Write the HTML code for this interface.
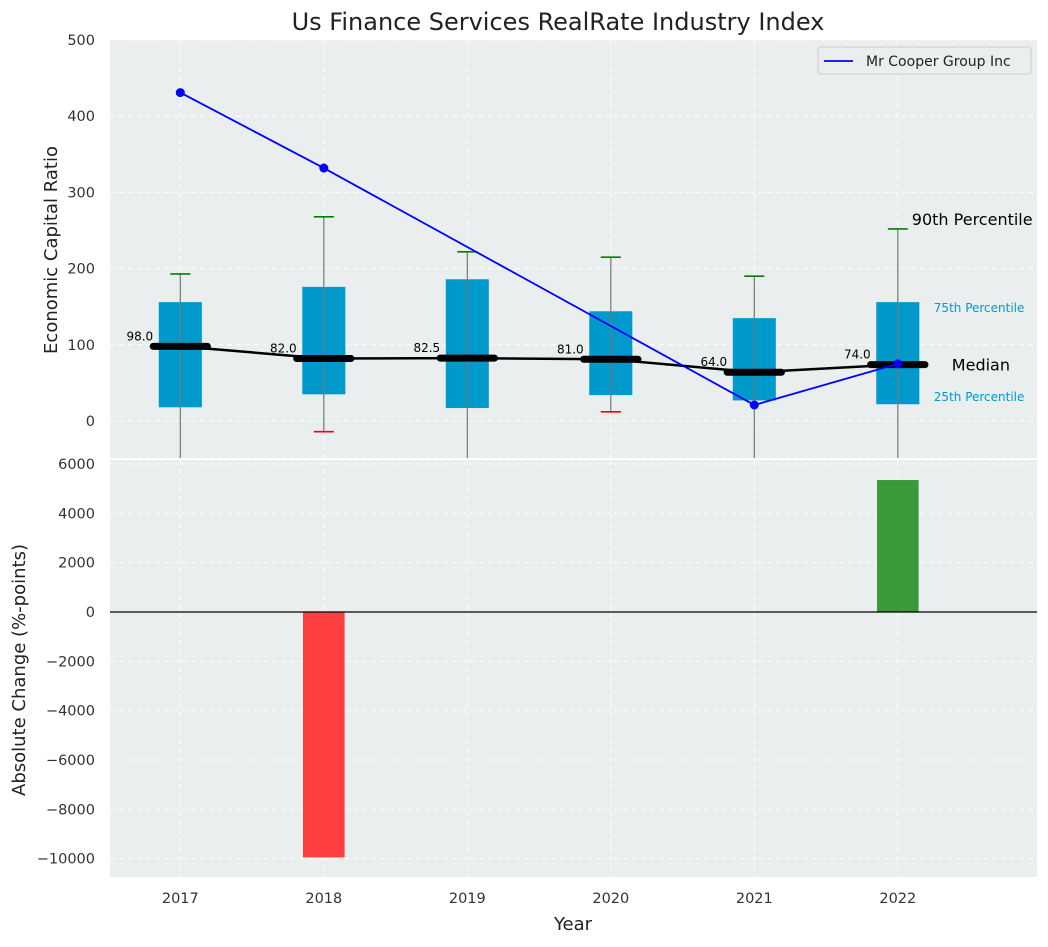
<!DOCTYPE html>
<html><head><meta charset="utf-8"><style>
body{margin:0;background:#fff;}
svg text{font-family:"DejaVu Sans","Liberation Sans",sans-serif;}
</style></head><body>
<svg id="chart" width="1048" height="942" xmlns="http://www.w3.org/2000/svg"></svg>
<script>
const years=[2017,2018,2019,2020,2021,2022];
const q1=[18,35,17,34,27,22];
const q3=[156,176,186,144,135,156];
const medians=[98,82,82.5,81,64,74];
const p90=[193,268,222,215,190,252];
const p10=[-60,-14,-60,12,-60,-60];
const company=[431,332,null,null,21,75];
const changes=[0,-9950,0,0,0,5350];
const topTicks=[0,100,200,300,400,500];
const botTicks=[-10000,-8000,-6000,-4000,-2000,0,2000,4000,6000];

const NS='http://www.w3.org/2000/svg';
const svg=document.getElementById('chart');
function el(t,a,p){const e=document.createElementNS(NS,t);for(const k in a)e.setAttribute(k,a[k]);(p||svg).appendChild(e);return e;}
const L=110,R=1037;
const x=v=>L+(v-2016.51)/(2022.97-2016.51)*(R-L);
const T1=40,B1=458,T2=460,B2=877;
const y1=v=>421-0.762*v;
const y2=v=>612-v*0.024667;
const pxU=(R-L)/(2022.97-2016.51);

let e;
e=el('rect',{x:L,y:T1,width:R-L,height:B1-T1,fill:'#eaeeef'});

e=el('rect',{x:L,y:T2,width:R-L,height:B2-T2,fill:'#eaeeef'});


const clip=el('clipPath',{id:'c1'});el('rect',{x:L,y:T1,width:R-L,height:B1-T1},clip);
const g1=el('g',{'clip-path':'url(#c1)'});


years.forEach(yr=>{
 el('line',{x1:x(yr),x2:x(yr),y1:T1,y2:B1,stroke:'#fff','stroke-dasharray':'5,4','stroke-width':1},g1);
 el('line',{x1:x(yr),x2:x(yr),y1:T2,y2:B2,stroke:'#fff','stroke-dasharray':'5,4','stroke-width':1});
});
topTicks.forEach(t=>{
 el('line',{x1:L,x2:R,y1:y1(t),y2:y1(t),stroke:'#fff','stroke-dasharray':'5,4'},g1);
 e=el('text',{x:95,y:y1(t)+5,'text-anchor':'end','font-size':14.5,fill:'#333'});e.textContent=t;
 
});
botTicks.forEach(t=>{
 el('line',{x1:L,x2:R,y1:y2(t),y2:y2(t),stroke:'#fff','stroke-dasharray':'5,4'});
 e=el('text',{x:95,y:y2(t)+5,'text-anchor':'end','font-size':14.5,fill:'#333'});e.textContent=t<0?'\u2212'+(-t):t;
 
});

const bw=0.3*pxU, mw=0.42*pxU;
years.forEach((yr,i)=>{
 const cx=x(yr);
 e=el('rect',{x:cx-bw/2,y:y1(q3[i]),width:bw,height:y1(q1[i])-y1(q3[i]),fill:'#0099cc'},g1);
 
 e=el('line',{x1:cx,x2:cx,y1:y1(p90[i]),y2:y1(p10[i]),stroke:'#777','stroke-width':1.2},g1);
 
 el('line',{x1:cx-10,x2:cx+10,y1:y1(p90[i]),y2:y1(p90[i]),stroke:'green','stroke-width':1.6},g1);
 el('line',{x1:cx-10,x2:cx+10,y1:y1(p10[i]),y2:y1(p10[i]),stroke:'red','stroke-width':1.6},g1);
});
let d='';years.forEach((yr,i)=>{d+=(i?'L':'M')+x(yr)+' '+y1(medians[i]);});
e=el('path',{d:d,fill:'none',stroke:'#000','stroke-width':2.5},g1);

years.forEach((yr,i)=>{
 const cx=x(yr);
 e=el('line',{x1:cx-mw/2+3,x2:cx+mw/2-3,y1:y1(medians[i]),y2:y1(medians[i]),stroke:'#000','stroke-width':7,'stroke-linecap':'round'},g1);
 
 e=el('text',{x:cx-mw/2+3,y:y1(medians[i])-6,'text-anchor':'end','font-size':12,fill:'#000'},g1);
 e.textContent=medians[i].toFixed(1);
 
});
d='';let first=true;years.forEach((yr,i)=>{if(company[i]!==null){d+=(first?'M':'L')+x(yr)+' '+y1(company[i]);first=false;}});
e=el('path',{d:d,fill:'none',stroke:'blue','stroke-width':1.8},g1);

years.forEach((yr,i)=>{if(company[i]!==null){
 e=el('circle',{cx:x(yr),cy:y1(company[i]),r:4.5,fill:'blue'},g1);
 
}});
// annotations
const ax=x(2022);
e=el('text',{x:ax+14,y:y1(p90[5])-4,'font-size':16,fill:'#000'});e.textContent='90th Percentile';

e=el('text',{x:ax+36,y:y1(q3[5])+10,'font-size':12,fill:'#0099cc'});e.textContent='75th Percentile';

e=el('text',{x:ax+54,y:y1(medians[5])+6,'font-size':16,fill:'#000'});e.textContent='Median';

e=el('text',{x:ax+36,y:y1(q1[5])-3,'font-size':12,fill:'#0099cc'});e.textContent='25th Percentile';

// legend
const lg=el('g',{});
el('rect',{x:818,y:47,width:213,height:27,rx:3,fill:'#eaeeef',stroke:'#ccc'},lg);
el('line',{x1:824,x2:853,y1:61,y2:61,stroke:'blue','stroke-width':1.8},lg);
e=el('text',{x:866,y:66,'font-size':14,fill:'#222'},lg);e.textContent='Mr Cooper Group Inc';

// bars
years.forEach((yr,i)=>{
 if(!changes[i])return;
 const v=changes[i];
 e=el('rect',{x:x(yr)-0.29*pxU/2,y:Math.min(y2(0),y2(v)),width:0.29*pxU,height:Math.abs(y2(v)-y2(0)),fill:v<0?'#ff4040':'#3a9a3a'});
 
});
el('line',{x1:L,x2:R,y1:y2(0),y2:y2(0),stroke:'#000','stroke-width':1.2});
years.forEach(yr=>{
 e=el('text',{x:x(yr),y:903,'text-anchor':'middle','font-size':14.5,fill:'#333'});e.textContent=yr;
 
});
e=el('text',{x:573,y:930,'text-anchor':'middle','font-size':18,fill:'#222'});e.textContent='Year';

e=el('text',{x:558,y:30,'text-anchor':'middle','font-size':24,fill:'#222'});e.textContent='Us Finance Services RealRate Industry Index';

e=el('text',{x:57,y:250,'text-anchor':'middle','font-size':18,fill:'#222',transform:'rotate(-90 57 250)'});e.textContent='Economic Capital Ratio';

e=el('text',{x:25,y:670,'text-anchor':'middle','font-size':18,fill:'#222',transform:'rotate(-90 25 670)'});e.textContent='Absolute Change (%-points)';

</script>
</body></html>
